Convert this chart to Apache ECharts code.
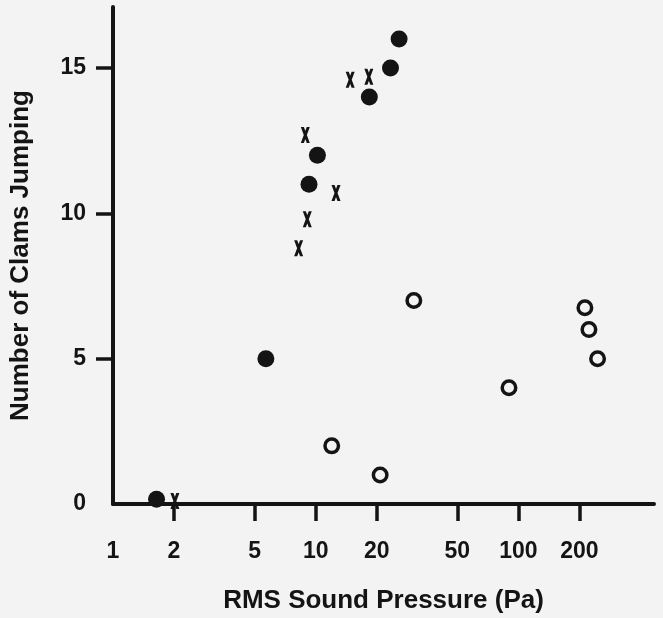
<!DOCTYPE html>
<html><head><meta charset="utf-8">
<script src="https://cdn.jsdelivr.net/npm/echarts@6/dist/echarts.min.js"></script>
<style>html,body{margin:0;padding:0;background:#f4f3f3}#c{width:663px;height:618px}</style>
</head><body><div id="c"></div>
<script>
// Filled circles
const filledX = [1.64, 5.68, 9.27, 10.2, 18.4, 23.4, 25.8];
const filledY = [0.16, 5, 11, 12, 14, 15, 16];
// "x" markers
const crossX = [2.02, 8.24, 9.09, 8.89, 12.6, 14.8, 18.3];
const crossY = [0.1, 8.8, 9.8, 12.7, 10.7, 14.6, 14.7];
// Open circles
const openX = [12.0, 20.8, 30.5, 89.9, 213, 223, 246];
const openY = [2, 1, 7, 4, 6.75, 6, 5];
// Axis ticks / labels
const xTickValues = [2, 5, 10, 20, 50, 100, 200];
const xLabelValues = [1, 2, 5, 10, 20, 50, 100, 200];
const yTickValues = [5, 10, 15];
const yLabelValues = [0, 5, 10, 15];

const zip = (a, b) => a.map((v, i) => [v, b[i]]);
const INK = '#141414';
const FONT = '"Liberation Sans", Arial, Helvetica, sans-serif';

const chart = echarts.init(document.getElementById('c'), null, {renderer: 'canvas'});
chart.setOption({
  backgroundColor: '#f4f3f3',
  animation: false,
  textStyle: {fontFamily: FONT, color: INK},
  grid: {left: 113, right: 9, top: 7, bottom: 114, containLabel: false, outerBoundsMode: 'none'},
  xAxis: {
    type: 'log', logBase: 10, min: 1, max: 467, z: 3,
    axisLine: {show: true, onZero: false, lineStyle: {color: INK, width: 4}},
    axisTick: {show: true, inside: false, length: 17, customValues: xTickValues, lineStyle: {color: INK, width: 3.5}},
    minorTick: {show: false},
    splitLine: {show: false},
    axisLabel: {customValues: xLabelValues, margin: 36, fontSize: 23, fontWeight: 'bold', color: INK, fontFamily: FONT},
    name: 'RMS Sound Pressure (Pa)', nameLocation: 'middle', nameGap: 84,
    nameTextStyle: {fontSize: 26, fontWeight: 'bold', color: INK, fontFamily: FONT}
  },
  yAxis: {
    type: 'value', min: 0, max: 17.1, z: 3,
    axisLine: {show: true, onZero: false, lineStyle: {color: INK, width: 4}},
    axisTick: {show: true, inside: false, length: 17, customValues: yTickValues, lineStyle: {color: INK, width: 3.5}},
    splitLine: {show: false},
    axisLabel: {customValues: yLabelValues, margin: 27, fontSize: 23, fontWeight: 'bold', color: INK, fontFamily: FONT},
    name: 'Number of Clams Jumping', nameLocation: 'middle', nameGap: 79,
    nameTextStyle: {fontSize: 26, fontWeight: 'bold', color: INK, fontFamily: FONT}
  },
  series: [
    {
      type: 'scatter', name: 'filled', data: zip(filledX, filledY),
      symbol: 'circle', symbolSize: 17, clip: false,
      itemStyle: {color: INK, opacity: 1}
    },
    {
      type: 'scatter', name: 'cross', data: zip(crossX, crossY),
      symbol: 'path://M0,0L3.4,0L10,18L6.6,18Z M6.6,0L10,0L3.4,18L0,18Z',
      symbolSize: [9, 16], symbolKeepAspect: false, clip: false,
      itemStyle: {color: INK, opacity: 1}
    },
    {
      type: 'scatter', name: 'open', data: zip(openX, openY),
      symbol: 'circle', symbolSize: 13.5, clip: false,
      itemStyle: {color: 'rgba(0,0,0,0)', borderColor: INK, borderWidth: 3.5, opacity: 1}
    }
  ]
});
</script>
</body></html>
